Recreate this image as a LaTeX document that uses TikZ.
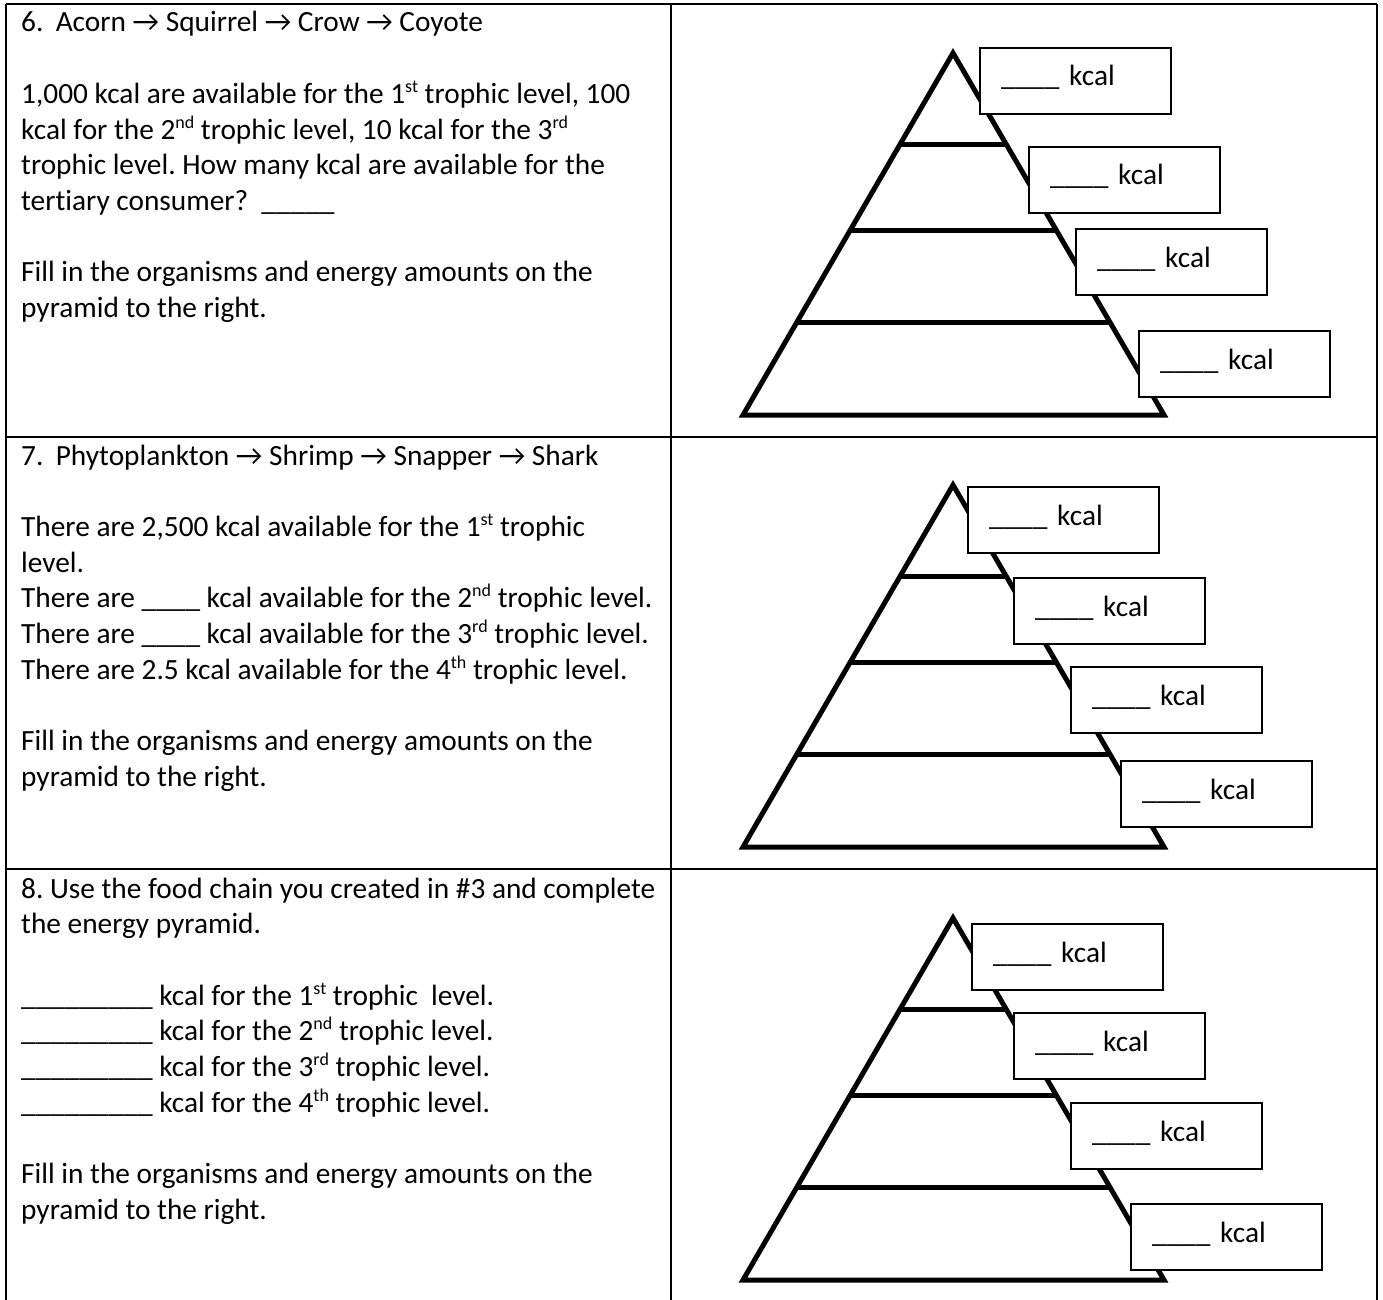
\documentclass[tikz,border=0pt]{standalone}
\usepackage{fontspec}
\setmainfont{Carlito}[Ligatures=NoCommon]
\usetikzlibrary{calc}
\frenchspacing
\newcommand\sps[1]{\raisebox{11pt}{\fontsize{18}{18}\selectfont #1}}
\newcommand\ufour{\_\_\_\_}
\newcommand\unine{\_\_\_\_\_\_\_\_\_}
\newcommand\drawpyr[2]{%
  \coordinate (#1a) at (953,#2);
  \coordinate (#1l) at (743,#2+362);
  \coordinate (#1r) at (1164,#2+362);
  \draw[pyr] (#1a) -- (#1r) -- (#1l) -- cycle;
  \foreach \f in {0.253,0.489,0.744}
    \draw[pyr,line cap=butt] ($(#1a)!\f!(#1l)$) -- ($(#1a)!\f!(#1r)$);
}
\begin{document}
\begin{tikzpicture}[x=1pt,y=-1pt,
  txt/.style={anchor=base west, inner sep=0pt, font=\frenchspacing\fontsize{29.33}{35.7}\selectfont},
  grid/.style={line width=2.5pt},
  pyr/.style={line width=5pt, line join=miter},
  kbox/.style={draw, line width=2pt, fill=white, anchor=north west,
    minimum width=191pt, minimum height=66pt, text width=149pt,
    inner xsep=21pt, inner ysep=0pt, align=left, text height=20pt, text depth=10pt,
    font=\fontsize{29.33}{35.7}\selectfont}]
\useasboundingbox (0,0) rectangle (1383,1300);
\fill[white] (0,0) rectangle (1383,1300);

% table grid
\coordinate (tl) at (6,4);
\coordinate (tm) at (671,4);
\coordinate (tr) at (1377,4);
\coordinate (bl) at (6,1300);
\coordinate (bm) at (671,1300);
\coordinate (br) at (1377,1300);
\coordinate (d1l) at (6,437);
\coordinate (d1r) at (1377,437);
\coordinate (d2l) at (6,869);
\coordinate (d2r) at (1377,869);
\draw[grid] (tl) -- (tr);
\draw[grid] (d1l) -- (d1r);
\draw[grid] (d2l) -- (d2r);
\draw[grid] (tl) -- (bl);
\draw[grid] (tm) -- (bm);
\draw[grid] (tr) -- (br);

% row 1 text
\node[txt] (r1a) at (21,32) {6.\hspace{0.42em}Acorn → Squirrel → Crow → Coyote};
\node[txt] (r1b) at (21,103.4) {1,000 kcal are available for the 1\sps{st} trophic level, 100};
\node[txt] (r1c) at (21,139.1) {kcal for the 2\sps{nd} trophic level, 10 kcal for the 3\sps{rd}};
\node[txt] (r1d) at (21,174.8) {trophic level. How many kcal are available for the};
\node[txt] (r1e) at (21,210.5) {tertiary consumer?\ \ \_\_\_\_\_};
\node[txt] (r1f) at (21,281.9) {Fill in the organisms and energy amounts on the};
\node[txt] (r1g) at (21,317.6) {pyramid to the right.};

% row 2 text
\node[txt] (r2a) at (21,465) {7.\hspace{0.42em}Phytoplankton → Shrimp → Snapper → Shark};
\node[txt] (r2b) at (21,536.4) {There are 2,500 kcal available for the 1\sps{st} trophic};
\node[txt] (r2c) at (21,572.1) {level.};
\node[txt] (r2d) at (21,607.8) {There are \ufour\ kcal available for the 2\sps{nd} trophic level.};
\node[txt] (r2e) at (21,643.5) {There are \ufour\ kcal available for the 3\sps{rd} trophic level.};
\node[txt] (r2f) at (21,679.2) {There are 2.5 kcal available for the 4\sps{th} trophic level.};
\node[txt] (r2g) at (21,750.6) {Fill in the organisms and energy amounts on the};
\node[txt] (r2h) at (21,786.3) {pyramid to the right.};

% row 3 text
\node[txt] (r3a) at (21,898) {8. Use the food chain you created in \#3 and complete};
\node[txt] (r3b) at (21,933.7) {the energy pyramid.};
\node[txt] (r3c) at (21,1005.1) {\unine\ kcal for the 1\sps{st} trophic\ \ level.};
\node[txt] (r3d) at (21,1040.8) {\unine\ kcal for the 2\sps{nd} trophic level.};
\node[txt] (r3e) at (21,1076.5) {\unine\ kcal for the 3\sps{rd} trophic level.};
\node[txt] (r3f) at (21,1112.2) {\unine\ kcal for the 4\sps{th} trophic level.};
\node[txt] (r3g) at (21,1183.6) {Fill in the organisms and energy amounts on the};
\node[txt] (r3h) at (21,1219.3) {pyramid to the right.};

% pyramids
\drawpyr{p1}{53}
\drawpyr{p2}{485}
\drawpyr{p3}{918}

% boxes row 1
\node[kbox] (b11) at (979,47) {\ufour\ kcal};
\node[kbox] (b12) at (1028,146) {\ufour\ kcal};
\node[kbox] (b13) at (1075,228) {\ufour\ kcal};
\node[kbox] (b14) at (1138,330) {\ufour\ kcal};
% boxes row 2
\node[kbox] (b21) at (967,486) {\ufour\ kcal};
\node[kbox] (b22) at (1013,577) {\ufour\ kcal};
\node[kbox] (b23) at (1070,666) {\ufour\ kcal};
\node[kbox] (b24) at (1120,760) {\ufour\ kcal};
% boxes row 3
\node[kbox] (b31) at (971,923) {\ufour\ kcal};
\node[kbox] (b32) at (1013,1012) {\ufour\ kcal};
\node[kbox] (b33) at (1070,1102) {\ufour\ kcal};
\node[kbox] (b34) at (1130,1203) {\ufour\ kcal};
\end{tikzpicture}
\end{document}
